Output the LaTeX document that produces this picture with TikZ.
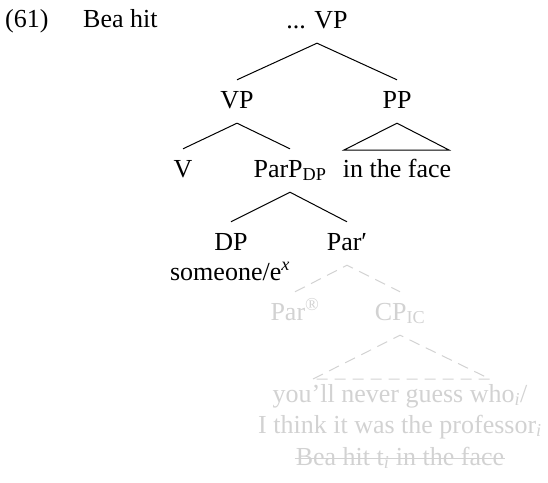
\documentclass[tikz,border=0pt]{standalone}
\usepackage{fontspec}
\setmainfont{Liberation Serif}
\definecolor{fade}{RGB}{210,210,210}
\begin{document}
\begin{tikzpicture}[x=1pt,y=-1pt,
  lbl/.style={anchor=base, inner xsep=0pt, inner ysep=9pt, text height=19pt, text depth=6pt,
    font=\fontsize{26}{31}\selectfont},
  faded/.style={lbl, text=fade},
  branch/.style={line width=1pt, black},
  ghost/.style={line width=1pt, fade, dash pattern=on 11pt off 7pt}]
\useasboundingbox (0,0) rectangle (548,482);
% header
\node[lbl, anchor=base west] (ex) at (5,27) {(61)};
\node[lbl, anchor=base west] (bea) at (83,27) {Bea hit};
% tree
\node[lbl] (top) at (317,28) {... VP};
\node[lbl] (vp) at (237,108) {VP};
\node[lbl] (pp) at (397,108) {PP};
\node[lbl] (v) at (183,177) {V};
\node[lbl] (parp) at (290,177) {ParP\textsubscript{DP}};
\node[lbl] (face) at (397,177) {in the face};
\node[lbl] (dp) at (231,250) {DP};
\node[lbl] (some) at (230,280) {someone/e\textsuperscript{\textit{x}}};
\node[lbl] (parbar) at (347,250) {Par′};
\node[faded] (parr) at (295,320) {Par\textsuperscript{®}};
\node[faded] (cp) at (400,320) {CP\textsubscript{IC}};
\node[faded] (l1) at (400,402) {you’ll never guess who\textsubscript{\textit{i}}/};
\node[faded] (l2) at (400,433) {I think it was the professor\textsubscript{\textit{i}}};
\node[faded] (l3) at (400,465) {Bea hit t\textsubscript{\textit{i}} in the face};
\coordinate (ppL) at (344,150);
\coordinate (ppR) at (449,150);
\coordinate (cpL) at (313,379);
\coordinate (cpR) at (490,379);
% connectors
\draw[branch] (vp.north) -- (top.south) -- (pp.north);
\draw[branch] (v.north) -- (vp.south) -- (parp.north);
\draw[branch] (ppL) -- (pp.south) -- (ppR) -- cycle;
\draw[branch] (dp.north) -- (parp.south) -- (parbar.north);
\draw[ghost] (parr.north) -- (parbar.south) -- (cp.north);
\draw[ghost] (cpL) -- (cp.south) -- (cpR) -- cycle;
% strike-out
\draw[fade, line width=1pt] ([xshift=-1pt,yshift=7pt]l3.base west) -- ([xshift=1pt,yshift=7pt]l3.base east);
\end{tikzpicture}
\end{document}
